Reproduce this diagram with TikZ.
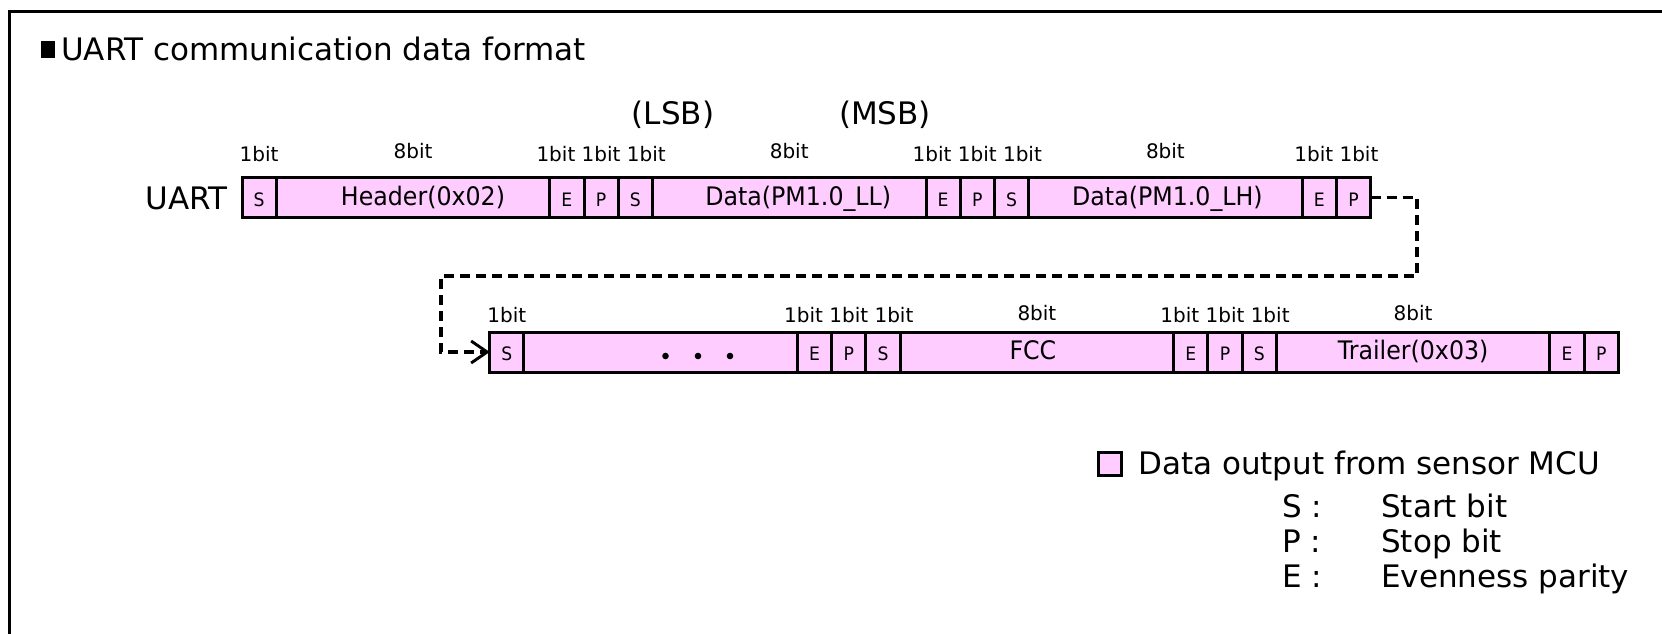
\documentclass[tikz,border=0pt]{standalone}
\usepackage{fontspec}
\setmainfont{DejaVu Sans}
\newfontfamily\narrowfont[FakeStretch=0.93]{DejaVu Sans}
\usetikzlibrary{arrows.meta}
\definecolor{cellpink}{RGB}{255,204,255}
\newcommand\bigtext{\fontsize{31}{37}\selectfont}
\newcommand\bittext{\fontsize{20}{24}\selectfont}
\newcommand\fieldtext{\narrowfont\fontsize{25.5}{30}\selectfont}
\newcommand\flagtext{\narrowfont\fontsize{18.5}{22}\selectfont}

\tikzset{
  bitcell/.style={draw, fill=cellpink, line width=3pt, minimum height=40pt,
    minimum width=#1*34.2pt, inner sep=0pt, outer sep=0pt, anchor=west},
  flag/.style={bitcell=1, font=\flagtext, text height=17pt, text depth=0pt},
  field/.style={bitcell=8, font=\fieldtext, text height=19pt, text depth=4pt},
  bitlbl/.style={font=\bittext, anchor=base, inner sep=0pt},
  big/.style={font=\bigtext, inner sep=0pt},
  link/.style={line width=3.1pt, dash pattern=on 10pt off 6pt},
}

\begin{document}
\begin{tikzpicture}[x=1pt,y=-1pt]
\useasboundingbox (0,0) rectangle (1662,633);

% outer frame (runs past the right and bottom edges)
\begin{scope}
  \clip (0,0) rectangle (1662,633);
  \draw[line width=3pt] (9,11) rectangle (1720,700);
\end{scope}

% heading
\node[fill=black, minimum width=14pt, minimum height=17pt, inner sep=0pt,
      anchor=south west] (bullet) at (41,58) {};
\node[big, anchor=base west] (title) at (61,60.5) {UART communication data format};

% first frame row
\node[big, anchor=base east] (uart) at (228,209.5) {UART};
\node[flag]  (a1)  at (242,197.5) {S};
\node[field] (a2)  at (a1.east)  {\hspace*{20pt}Header(0x02)};
\node[flag]  (a3)  at (a2.east)  {E};
\node[flag]  (a4)  at (a3.east)  {P};
\node[flag]  (a5)  at (a4.east)  {S};
\node[field] (a6)  at (a5.east)  {\hspace*{18pt}Data(PM1.0\_LL)};
\node[flag]  (a7)  at (a6.east)  {E};
\node[flag]  (a8)  at (a7.east)  {P};
\node[flag]  (a9)  at (a8.east)  {S};
\node[field] (a10) at (a9.east)  {\hspace*{4pt}Data(PM1.0\_LH)};
\node[flag]  (a11) at (a10.east) {E};
\node[flag]  (a12) at (a11.east) {P};

\node[big, anchor=base] (lsb) at (673,124) {(LSB)};
\node[big, anchor=base] (msb) at (885,124) {(MSB)};

\node[bitlbl] (la1)  at (a1.center  |- 0,161) {1bit};
\node[bitlbl] (la2)  at (a2.center  |- 0,158) {8bit};
\node[bitlbl] (la4)  at (a4.center  |- 0,161) {1bit 1bit 1bit};
\node[bitlbl] (la6)  at (a6.center  |- 0,158) {8bit};
\node[bitlbl] (la8)  at (a8.center  |- 0,161) {1bit 1bit 1bit};
\node[bitlbl] (la10) at (a10.center |- 0,158) {8bit};
\node[bitlbl] (la11) at (a11.east   |- 0,161) {1bit 1bit};

% second frame row
\node[flag]  (b1)  at (489.7,352) {S};
\node[field] (b2)  at (b1.east)  {};
\node[flag]  (b3)  at (b2.east)  {E};
\node[flag]  (b4)  at (b3.east)  {P};
\node[flag]  (b5)  at (b4.east)  {S};
\node[field] (b6)  at (b5.east)  {FCC\hspace*{8pt}};
\node[flag]  (b7)  at (b6.east)  {E};
\node[flag]  (b8)  at (b7.east)  {P};
\node[flag]  (b9)  at (b8.east)  {S};
\node[field] (b10) at (b9.east)  {Trailer(0x03)};
\node[flag]  (b11) at (b10.east) {E};
\node[flag]  (b12) at (b11.east) {P};

\foreach \x in {665.5,698,730} \fill (\x,356) circle (3.3pt);

\node[bitlbl] (lb1)  at (b1.center  |- 0,322.5) {1bit};
\node[bitlbl] (lb4)  at (b4.center  |- 0,322.5) {1bit 1bit 1bit};
\node[bitlbl] (lb6)  at (b6.center  |- 0,320)   {8bit};
\node[bitlbl] (lb8)  at (b8.center  |- 0,322.5) {1bit 1bit 1bit};
\node[bitlbl] (lb10) at (b10.center |- 0,320)   {8bit};

% continuation from the first row to the second
\coordinate (k1) at (1417,276);
\coordinate (k2) at (441,276);
\draw[link, -{Straight Barb[length=16pt,width=22pt,line width=2.9pt]}]
  (a12.east) -| (k1) -- (k2) |- (b1.west);

% legend
\node[draw, fill=cellpink, line width=2.6pt, minimum size=23pt, inner sep=0pt,
      anchor=north west] (key) at (1097,451) {};
\node[big, anchor=base west] (keytxt) at (1138,474) {Data output from sensor MCU};
\node[big, anchor=base west] (ks)  at (1282,517) {S :};
\node[big, anchor=base west] (ksd) at (1381,517) {Start bit};
\node[big, anchor=base west] (kp)  at (1282,552) {P :};
\node[big, anchor=base west] (kpd) at (1381,552) {Stop bit};
\node[big, anchor=base west] (ke)  at (1282,587) {E :};
\node[big, anchor=base west] (ked) at (1381,587) {Evenness parity};
\end{tikzpicture}
\end{document}
